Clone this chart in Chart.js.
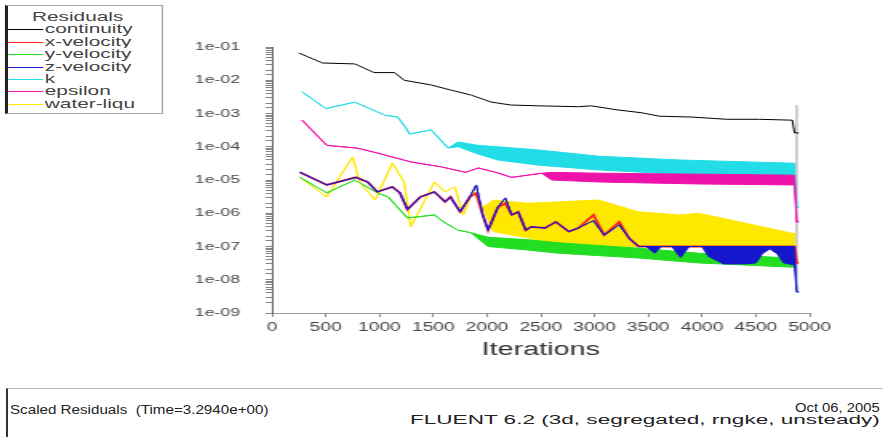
<!DOCTYPE html>
<html><head><meta charset="utf-8">
<script src="https://cdn.jsdelivr.net/npm/chart.js@4.4.1/dist/chart.umd.min.js"></script>
<style>
html,body{margin:0;padding:0;background:#fff;}
body{width:883px;height:437px;overflow:hidden;position:relative;font-family:"Liberation Sans",Arial,sans-serif;}
#wrap{position:absolute;left:0;top:0;width:552px;height:380px;transform:scaleX(1.6);transform-origin:0 0;}
#c{position:absolute;left:0;top:0;}
#legend{position:absolute;left:3px;top:5px;width:99px;box-sizing:border-box;border:1px solid #aaa;border-left:2px solid #222;background:#fff;padding:5px 0 3px 0;font-size:13px;line-height:12.4px;color:#444;}
.row{position:relative;height:12.4px;white-space:nowrap;overflow:hidden}
.ttl{padding-left:15px}
.sw{position:absolute;left:0;top:6px;width:22px;height:1px}
.lab{position:absolute;left:23px;top:0}
#footer{position:absolute;left:6px;top:388px;width:877px;height:49px;border-top:1px solid #bbb;border-left:2px solid #333;box-sizing:border-box}
.ft{position:absolute;white-space:nowrap;font-size:12px;line-height:12px;color:#222;transform-origin:0 0}
</style></head>
<body>
<div id="wrap">
  <canvas id="c" width="552" height="380"></canvas>
  <div id="legend"></div>
</div>
<div id="footer"></div>
<div class="ft" id="f1" data-l="10" data-t="404" data-w="258">Scaled Residuals&nbsp;&nbsp;(Time=3.2940e+00)</div>
<div class="ft" id="f2" data-l="795" data-t="402" data-w="85">Oct 06, 2005</div>
<div class="ft" id="f3" data-l="410" data-t="414" data-w="470">FLUENT 6.2 (3d, segregated, rngke, unsteady)</div>
<script>
// ---- tick labels ----
const xTickLabels = ['0','500','1000','1500','2000','2500','3000','3500','4000','4500','5000'];
const yTickLabels = ['1e-01','1e-02','1e-03','1e-04','1e-05','1e-06','1e-07','1e-08','1e-09'];
const legendTitle = 'Residuals';
const seriesNames = ['continuity','x-velocity','y-velocity','z-velocity','k','epsilon','water-liqu'];
const seriesColors = ['#000000','#ff2222','#22dd22','#1616cc','#22dde6','#ee11aa','#ffe800'];

// ---- continuity ----
const contIter = [250,470,770,950,1140,1230,1480,1660,1850,2040,2220,2480,2850,2970,3200,3440,3600,3910,4230,4530,4840,4860,4900];
const contVal  = [6.6e-2,3.3e-2,3.1e-2,1.7e-2,1.7e-2,1.0e-2,7.2e-3,5.1e-3,3.6e-3,2.2e-3,1.8e-3,1.7e-3,1.6e-3,1.7e-3,1.3e-3,1.05e-3,8.3e-4,7.8e-4,6.7e-4,6.7e-4,6.3e-4,2.6e-4,2.6e-4];

// ---- x-velocity ----
const xvIter = [260,510,780,890,980,1120,1190,1260,1380,1510,1610,1660,1750,1840,1900,1960,2010,2100,2170,2230,2290,2360,2410,2540,2640,2760,2850,2990,3090,3230,3320,3410,4860,4880,4900];
const xvVal  = [1.7e-5,7.1e-6,1.2e-5,8.7e-6,4.4e-6,6.2e-6,4.1e-6,1.3e-6,3.1e-6,4.4e-6,2.2e-6,3.1e-6,1.1e-6,3.1e-6,4.0e-6,8.9e-7,3.1e-7,1.5e-6,2.0e-6,8.9e-7,1.1e-6,3.1e-7,3.9e-7,3.6e-7,5.5e-7,2.8e-7,3.6e-7,8.9e-7,2.2e-7,5.5e-7,1.8e-7,1.0e-7,1.0e-7,3.2e-8,3.2e-8];

// ---- y-velocity (upper / lower envelope) ----
const yvIter = [260,510,770,980,1080,1260,1510,1610,1730,1850,2010,2380,2660,3410,3970,4815,4870];
const yvHi   = [1.2e-5,4.1e-6,1.0e-5,4.1e-6,3.1e-6,7.2e-7,8.9e-7,5.1e-7,3.1e-7,2.6e-7,1.9e-7,1.6e-7,1.3e-7,8.9e-8,6.3e-8,4.5e-8,4.5e-8];
const yvLo   = [1.2e-5,4.1e-6,1.0e-5,4.1e-6,3.1e-6,7.2e-7,8.9e-7,5.1e-7,3.1e-7,2.6e-7,1.0e-7,7.8e-8,6.3e-8,4.5e-8,3.2e-8,2.4e-8,2.4e-8];

// ---- z-velocity ----
const zvIter = [260,510,780,890,980,1120,1190,1260,1380,1510,1610,1660,1750,1840,1900,1960,2010,2100,2170,2230,2290,2360,2410,2540,2640,2760,2850,2990,3090,3230,3320,3410,3480,3560,3620,3720,3800,3880,4000,4060,4200,4400,4500,4560,4630,4700,4760,4860,4880,4900];
const zvHi   = [1.7e-5,7.1e-6,1.2e-5,8.7e-6,4.4e-6,6.2e-6,4.1e-6,1.3e-6,3.1e-6,4.4e-6,2.2e-6,3.1e-6,1.1e-6,3.1e-6,7.1e-6,8.9e-7,3.1e-7,1.5e-6,2.9e-6,8.9e-7,1.1e-6,3.1e-7,3.9e-7,3.6e-7,5.5e-7,2.8e-7,3.6e-7,6.0e-7,2.2e-7,4.5e-7,1.8e-7,1.0e-7,1.0e-7,1.0e-7,1.0e-7,1.0e-7,1.0e-7,1.0e-7,1.0e-7,1.0e-7,1.0e-7,1.0e-7,1.0e-7,1.0e-7,1.0e-7,1.0e-7,1.0e-7,1.0e-7,4.3e-9,4.3e-9];
const zvLo   = [1.7e-5,7.1e-6,1.2e-5,8.7e-6,4.4e-6,6.2e-6,4.1e-6,1.3e-6,3.1e-6,4.4e-6,2.2e-6,3.1e-6,1.1e-6,3.1e-6,7.1e-6,8.9e-7,3.1e-7,1.5e-6,2.9e-6,8.9e-7,1.1e-6,3.1e-7,3.9e-7,3.6e-7,5.5e-7,2.8e-7,3.6e-7,6.0e-7,2.2e-7,4.5e-7,1.8e-7,1.0e-7,1.0e-7,6.3e-8,1.0e-7,1.0e-7,4.7e-8,1.0e-7,1.0e-7,5.0e-8,3.0e-8,3.0e-8,3.2e-8,6.0e-8,8.5e-8,6.0e-8,3.2e-8,2.8e-8,4.3e-9,4.3e-9];

// ---- k ----
const kIter = [280,500,770,1050,1170,1240,1280,1480,1640,1730,1920,2100,2480,3040,3790,4860,4880,4900];
const kHi   = [4.5e-3,1.4e-3,2.2e-3,8.9e-4,7.8e-4,3.9e-4,2.4e-4,3.2e-4,9.1e-5,1.4e-4,1.1e-4,1.0e-4,8.0e-5,5.2e-5,4.0e-5,3.2e-5,1.5e-6,1.5e-6];
const kLo   = [4.5e-3,1.4e-3,2.2e-3,8.9e-4,7.8e-4,3.9e-4,2.4e-4,3.2e-4,9.1e-5,1.0e-4,6.0e-5,4.0e-5,2.8e-5,2.0e-5,1.5e-5,1.2e-5,1.5e-6,1.5e-6];

// ---- epsilon ----
const epIter = [280,510,790,980,1290,1570,1800,1920,2080,2230,2510,2600,3040,3970,4860,4880,4900];
const epHi   = [6.3e-4,1.1e-4,9.1e-5,6.5e-5,3.5e-5,2.5e-5,1.7e-5,2.3e-5,1.7e-5,1.2e-5,1.6e-5,1.7e-5,1.6e-5,1.5e-5,1.4e-5,5.5e-7,5.5e-7];
const epLo   = [6.3e-4,1.1e-4,9.1e-5,6.5e-5,3.5e-5,2.5e-5,1.7e-5,2.3e-5,1.7e-5,1.2e-5,1.6e-5,1.0e-5,8.7e-6,7.6e-6,7.1e-6,5.5e-7,5.5e-7];

// ---- water-liquid ----
const wlIter = [260,510,750,820,960,1120,1230,1290,1400,1510,1610,1700,1780,1870,1960,2060,2380,2660,3040,3410,3790,3970,4350,4815,4870];
const wlHi   = [1.2e-5,3.1e-6,4.9e-5,8.1e-6,2.5e-6,3.2e-5,8.7e-6,3.9e-7,1.8e-6,8.7e-6,4.4e-6,6.2e-6,8.9e-7,5.0e-6,1.5e-6,2.5e-6,2.0e-6,2.2e-6,2.5e-6,1.1e-6,8.9e-7,1.0e-6,5.5e-7,2.6e-7,2.4e-7];
const wlLo   = [1.2e-5,3.1e-6,4.9e-5,8.1e-6,2.5e-6,3.2e-5,8.7e-6,3.9e-7,1.8e-6,8.7e-6,4.4e-6,6.2e-6,8.9e-7,5.0e-6,1.5e-6,2.8e-7,1.8e-7,1.1e-7,9.8e-8,9.8e-8,9.8e-8,9.8e-8,9.8e-8,9.8e-8,9.8e-8];

// ---- end-of-run marker line ----
const markerIter = [4880,4880];
const markerVal  = [1.8e-3,5e-9];

// ---- legend (HTML) ----
const lg = document.getElementById('legend');
let h = '<div class="row ttl">' + legendTitle + '</div>';
seriesNames.forEach((n,i)=>{
  h += '<div class="row"><span class="sw" style="background:'+seriesColors[i]+'"></span><span class="lab">'+n+'</span></div>';
});
lg.innerHTML = h;

// ---- footer text fit ----
document.querySelectorAll('.ft').forEach(el=>{
  const w = el.offsetWidth;
  el.style.left = el.dataset.l + 'px';
  el.style.top = el.dataset.t + 'px';
  el.style.transform = 'scaleX(' + (parseFloat(el.dataset.w)/w) + ')';
});

// ---- datasets ----
const pts = (xs, ys) => xs.map((x,i)=>({x:x, y:ys[i]}));
const datasets = [];
function addLine(xs, ys, color, order, width){
  datasets.push({data:pts(xs,ys), borderColor:color, backgroundColor:color, borderWidth:width||1, pointRadius:0, tension:0, fill:false, order:order});
}
function addBand(xs, hi, lo, color, order, width){
  const idx = datasets.length;
  datasets.push({data:pts(xs,hi), borderColor:color, backgroundColor:color, borderWidth:width||1, pointRadius:0, tension:0, fill:false, order:order});
  datasets.push({data:pts(xs,lo), borderColor:color, backgroundColor:color, borderWidth:width||1, pointRadius:0, tension:0, fill:{target:idx}, order:order});
}
addLine(markerIter, markerVal, '#b8b8b8', 200, 0.6);
addLine(contIter, contVal, seriesColors[0], 10, 1);
addLine(xvIter, xvVal, seriesColors[1], 35, 1.8);
addBand(yvIter, yvHi, yvLo, seriesColors[2], 50);
addBand(zvIter, zvHi, zvLo, seriesColors[3], 30, 1);
addBand(kIter, kHi, kLo, seriesColors[4], 45);
addBand(epIter, epHi, epLo, seriesColors[5], 40);
addBand(wlIter, wlHi, wlLo, seriesColors[6], 60);

const FONT = '"Liberation Sans", Arial, sans-serif';
new Chart(document.getElementById('c'), {
  type: 'line',
  data: { datasets: datasets },
  options: {
    responsive: false,
    animation: false,
    devicePixelRatio: 1,
    layout: { padding: { left: 100, right: 46, top: 47, bottom: 17 } },
    plugins: { legend: { display: false }, tooltip: { enabled: false } },
    scales: {
      x: {
        type: 'linear', min: 0, max: 5000,
        afterFit: s => { s.height = 50; },
        ticks: { stepSize: 500, autoSkip: false, maxRotation: 0, padding: 3, color: '#444',
          font: { family: FONT, size: 12 },
          callback: v => xTickLabels[Math.round(v/500)] },
        grid: { drawOnChartArea: false, drawTicks: true, tickLength: 4, color: '#888' },
        border: { display: true, color: '#999', width: 1 },
        title: { display: true, text: 'Iterations', color: '#333', font: { family: FONT, size: 18 }, padding: { top: 4, bottom: 2 } }
      },
      y: {
        type: 'logarithmic', min: 1e-9, max: 1e-1,
        afterFit: s => { s.width = 70; },
        ticks: { autoSkip: false, padding: 16, color: '#444', font: { family: FONT, size: 11 },
          callback: v => { const e = Math.log10(v); const n = Math.round(e);
            if (Math.abs(e - n) < 1e-6) { return yTickLabels[-1 - n] || ''; } return ''; } },
        grid: { drawOnChartArea: false, drawTicks: true, tickLength: 4, color: '#888' },
        border: { display: true, color: '#666', width: 1 }
      }
    }
  }
});
</script>
</body></html>
